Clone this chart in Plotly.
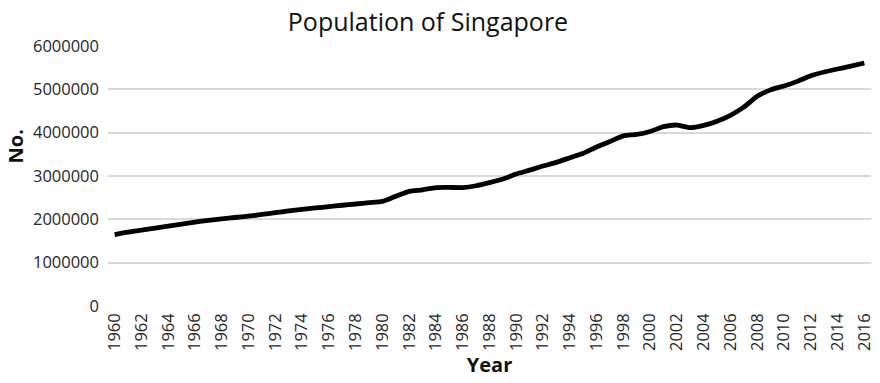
import plotly.graph_objects as go

years = list(range(1960, 2017))
population = [
    1646400, 1702400, 1750200, 1795000, 1841600, 1886900, 1934400, 1977600,
    2012000, 2042500, 2074507, 2112900, 2152400, 2193000, 2229800, 2262600,
    2293300, 2325300, 2353600, 2383500, 2413945, 2532835, 2646466, 2681061,
    2732221, 2735957, 2733373, 2774789, 2846108, 2930901, 3047132, 3135083,
    3230698, 3313471, 3419048, 3524506, 3670704, 3796038, 3927213, 3958723,
    4027887, 4138012, 4175950, 4114826, 4166664, 4265762, 4401365, 4588599,
    4839396, 4987573, 5076732, 5183688, 5312437, 5399162, 5469724, 5535002,
    5607283,
]
y_ticks = [0, 1000000, 2000000, 3000000, 4000000, 5000000, 6000000]

title_text = "Population of Singapore"
x_title = "Year"
y_title = "No."

FONT = "Open Sans"
TICK_COLOR = "#262626"

fig = go.Figure()
fig.add_trace(go.Scatter(
    x=years,
    y=population,
    mode="lines",
    line=dict(color="#000000", width=4.8, shape="spline", smoothing=0.6),
    hoverinfo="x+y",
    showlegend=False,
))

fig.update_layout(
    width=880,
    height=383,
    margin=dict(l=108, r=5, t=46, b=77),
    paper_bgcolor="white",
    plot_bgcolor="white",
    font=dict(family=FONT, color=TICK_COLOR, size=16),
    title=dict(
        text=title_text,
        x=428 / 880, xanchor="center",
        y=1 - 22 / 383, yanchor="middle", yref="container",
        font=dict(family=FONT, size=25, color="#111111"),
    ),
    xaxis=dict(
        range=[1959.5, 2016.5],
        tickmode="array",
        tickvals=years[::2],
        ticktext=[str(y) for y in years[::2]],
        tickangle=-90,
        tickfont=dict(family=FONT, size=16.5, color=TICK_COLOR),
        showgrid=False,
        zeroline=False,
        showline=False,
        ticks="",
        ticklabelstandoff=3,
        title=dict(text="<b>" + x_title + "</b>", font=dict(family=FONT, size=20, color="#111111"), standoff=4),
    ),
    yaxis=dict(
        range=[0, 6000000],
        tickmode="array",
        tickvals=y_ticks,
        ticktext=[str(v) for v in y_ticks],
        tickfont=dict(family=FONT, size=16.5, color=TICK_COLOR),
        showgrid=True,
        gridcolor="#d9d9d9",
        gridwidth=1.5,
        zeroline=False,
        showline=False,
        ticks="",
        ticklabelstandoff=8,
    ),
    annotations=[
        dict(
            text="<b>" + y_title + "</b>",
            xref="paper", yref="paper",
            x=-(108 - 15) / 767, y=(306 - 146) / 260,
            xanchor="center", yanchor="middle",
            textangle=-90,
            showarrow=False,
            font=dict(family=FONT, size=20, color="#111111"),
        )
    ],
)

fig.write_html("out.html")
